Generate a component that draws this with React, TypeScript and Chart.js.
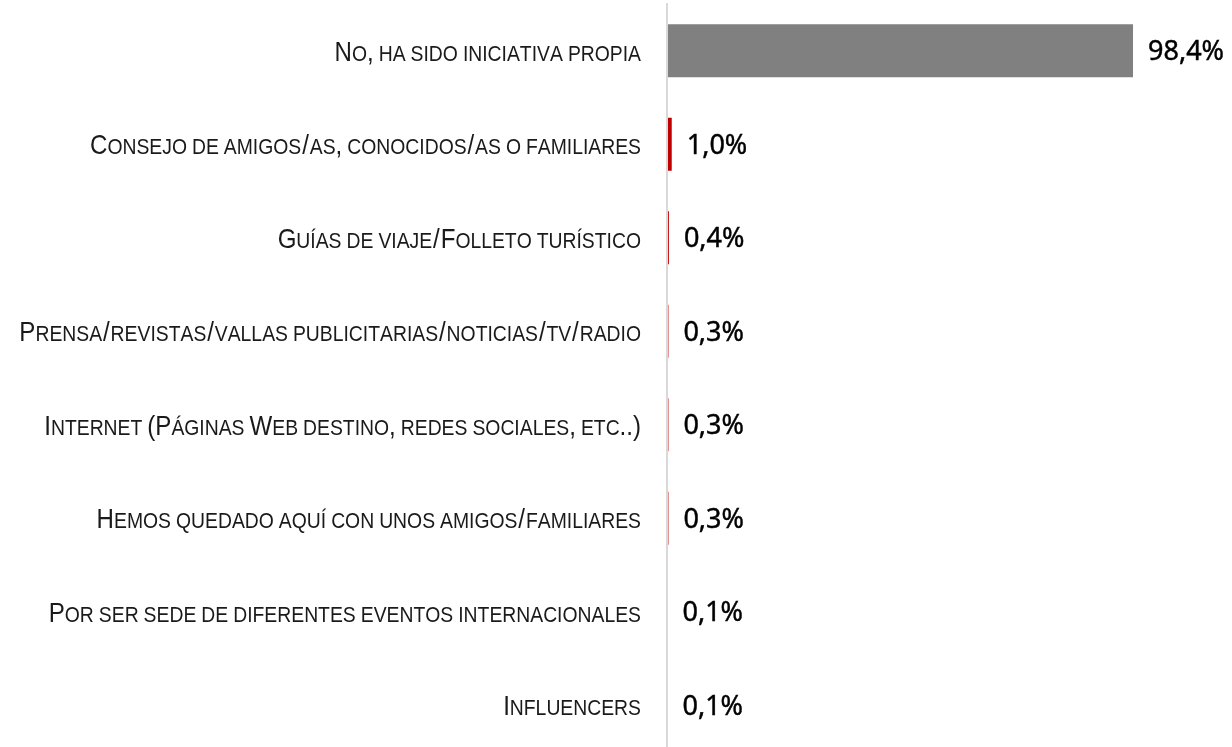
import { useEffect, useRef } from "react";
import { Chart, registerables } from "chart.js";

Chart.register(...registerables);

const categories = [
  "No, ha sido iniciativa propia",
  "Consejo de amigos/as, conocidos/as o familiares",
  "Guías de viaje/Folleto turístico",
  "Prensa/revistas/vallas publicitarias/noticias/tv/radio",
  "Internet (Páginas Web destino, redes sociales, etc..)",
  "Hemos quedado aquí con unos amigos/familiares",
  "Por ser sede de diferentes eventos internacionales",
  "Influencers",
];

const values = [98.4, 1.0, 0.4, 0.3, 0.3, 0.3, 0.1, 0.1];

const barColors = [
  "#808080",
  "#C00000",
  "#C00000",
  "#C00000",
  "#C00000",
  "#C00000",
  "#C00000",
  "#C00000",
];

const valueLabels = values.map((v) => v.toFixed(1).replace(".", ",") + "%");

const LABEL_FAMILY = '"Liberation Sans", Arial, sans-serif';
const BIG = 28;
const SMALL = 22.5;
const NARROW = 0.86;
const SPACE_W = 5;
const SLASH_W = 8.5;

function isLower(c: string) {
  return c !== c.toUpperCase() && c === c.toLowerCase();
}

function drawSmallCaps(ctx: CanvasRenderingContext2D, text: string, right: number, baseline: number) {
  const parts: { t: string; size: number; w: number; gw: number }[] = [];
  for (const c of text) {
    const size = isLower(c) ? SMALL : BIG;
    const t = isLower(c) ? c.toUpperCase() : c;
    ctx.font = `${size}px ${LABEL_FAMILY}`;
    const gw = ctx.measureText(t).width * NARROW;
    let w = gw;
    if (c === " ") w = SPACE_W;
    else if (c === "/") w = SLASH_W;
    parts.push({ t, size, w, gw });
  }
  const total = parts.reduce((a, p) => a + p.w, 0);
  let x = right - total;
  ctx.textAlign = "left";
  ctx.textBaseline = "alphabetic";
  for (const p of parts) {
    if (p.t !== " ") {
      ctx.save();
      ctx.translate(x + (p.w - p.gw) / 2, baseline);
      ctx.scale(NARROW, 1);
      ctx.font = `${p.size}px ${LABEL_FAMILY}`;
      ctx.fillText(p.t, 0, 0);
      ctx.restore();
    }
    x += p.w;
  }
}

const labelPlugin = {
  id: "smallCapsLabels",
  afterDatasetsDraw(chart: any) {
    const ctx: CanvasRenderingContext2D = chart.ctx;
    const yScale = chart.scales.y;
    const meta = chart.getDatasetMeta(0);
    ctx.save();
    categories.forEach((label, i) => {
      const cy = yScale.getPixelForValue(i);
      ctx.fillStyle = "#1A1A1A";
      drawSmallCaps(ctx, label, chart.chartArea.left - 26, cy + 10);
      const bar = meta.data[i];
      ctx.font = '27px "Noto Sans", sans-serif';
      ctx.fillStyle = "#000000";
      ctx.strokeStyle = "#000000";
      ctx.lineWidth = 0.45;
      ctx.textAlign = "left";
      ctx.textBaseline = "alphabetic";
      ctx.fillText(valueLabels[i], bar.x + 15, cy + 9.6);
      ctx.strokeText(valueLabels[i], bar.x + 15, cy + 9.6);
    });
    ctx.restore();
  },
};

export default function App() {
  const ref = useRef<HTMLCanvasElement | null>(null);

  useEffect(() => {
    document.body.style.margin = "0";
    document.body.style.overflow = "hidden";
    const canvas = ref.current;
    if (!canvas) return;
    const chart = new Chart(canvas, {
      type: "bar",
      data: {
        labels: categories,
        datasets: [
          {
            data: values,
            backgroundColor: barColors,
            borderWidth: 0,
            barPercentage: 0.567,
            categoryPercentage: 1,
          },
        ],
      },
      options: {
        indexAxis: "y",
        responsive: false,
        maintainAspectRatio: false,
        animation: false,
        devicePixelRatio: 1,
        layout: { padding: { top: 4, right: 91.4, bottom: 0, left: 0 } },
        plugins: {
          legend: { display: false },
          tooltip: { enabled: false },
        },
        scales: {
          x: { type: "linear", min: 0, max: 100, display: false },
          y: {
            type: "category",
            ticks: { display: false },
            grid: { display: false },
            border: { display: true, color: "#D9D9D9", width: 2, z: 1 },
            afterFit: (s: any) => {
              s.width = 667;
            },
          },
        },
      },
      plugins: [labelPlugin],
    } as any);
    return () => chart.destroy();
  }, []);

  return (
    <div style={{ position: "relative", width: 1232, height: 747, overflow: "hidden" }}>
      <canvas ref={ref} width={1232} height={752} style={{ display: "block", width: 1232, height: 752 }} />
    </div>
  );
}
